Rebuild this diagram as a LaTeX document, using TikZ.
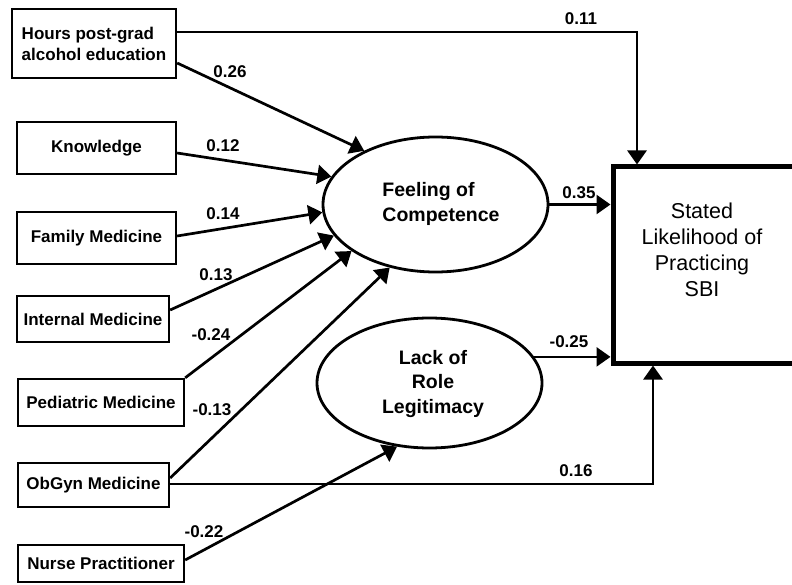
\documentclass[tikz,border=0pt]{standalone}
\usepackage{fontspec}
\setmainfont{Liberation Sans}
\usetikzlibrary{arrows.meta,shapes.geometric}
\begin{document}
\begin{tikzpicture}[x=1pt,y=-1pt,
  box/.style={draw,line width=2.3pt,rectangle,inner sep=0pt,font=\fontsize{17}{21}\selectfont\bfseries,align=center},
  lat/.style={draw,line width=2.8pt,ellipse,inner sep=0pt},
  lattxt/.style={font=\fontsize{19.5}{24.5}\selectfont\bfseries,inner sep=0pt},
  coef/.style={font=\fontsize{17}{20}\selectfont\bfseries,inner sep=0pt},
  conn/.style={line width=2.7pt,-{Triangle[length=14pt,width=19pt]}},
]
\clip (0,0) rectangle (792,585);
\fill[white] (0,0) rectangle (792,585);

% exogenous boxes
\node[box,align=left,minimum width=164pt,minimum height=69pt] (hours) at (94,43.5) {Hours post-grad\\alcohol education};
\node[box,minimum width=159pt,minimum height=52pt] (know) at (96.5,148) {Knowledge};
\node[box,minimum width=159pt,minimum height=52pt] (fam) at (96.5,238) {Family Medicine};
\node[box,minimum width=152pt,minimum height=46pt] (int) at (93,319) {Internal Medicine};
\node[box,minimum width=166pt,minimum height=47pt] (ped) at (101,402.5) {Pediatric Medicine};
\node[box,minimum width=151pt,minimum height=44pt] (obg) at (93.5,485) {ObGyn Medicine};
\node[box,minimum width=166pt,minimum height=37pt] (nur) at (101,563.5) {Nurse Practitioner};

% latent ellipses
\node[lat,minimum width=225pt,minimum height=135pt] (feel) at (435.5,204.5) {};
\node[lattxt,align=left] (feeltxt) at (441,204) {Feeling of\\Competence};
\node[lat,minimum width=225pt,minimum height=130pt] (lack) at (429.5,383) {};
\node[lattxt,align=center] (lacktxt) at (433,383.5) {Lack of\\Role\\Legitimacy};

% outcome box
\node[draw,line width=5pt,rectangle,inner sep=0pt,minimum width=187pt,minimum height=196pt] (sbi) at (706.5,265) {};
\node[font=\fontsize{21.5}{26}\selectfont,align=center,inner sep=0pt] (sbitxt) at (702,250) {Stated\\Likelihood of\\Practicing\\SBI};

% connectors
\draw[conn] ([yshift=11.5pt]hours.east) -| ([xshift=-69.5pt]sbi.north);
\draw[conn] ([yshift=-19.5pt]hours.east) -- (feel.143.3);
\draw[conn] ([yshift=-5pt]know.east) -- (feel.165);
\draw[conn] ([yshift=2pt]fam.east) -- (feel.184.3);
\draw[conn] ([yshift=9pt]int.east) -- (feel.197.6);
\draw[conn] (ped.north east) -- (feel.209.6);
\draw[conn] ([yshift=7pt]obg.east) -- (feel.234.7);
\draw[conn] ([yshift=1pt]obg.east) -| ([xshift=-53.5pt]sbi.south);
\draw[conn] ([yshift=3.5pt]nur.east) -- (lack.243.8);
\draw[conn] (feel.east) -- (feel.east -| sbi.west);
\draw[conn] (lack.14.8) -- (lack.14.8 -| sbi.west);

% coefficients
\node[coef] (c1) at (581,18.5) {0.11};
\node[coef] (c2) at (230,72) {0.26};
\node[coef] (c3) at (223,146) {0.12};
\node[coef] (c4) at (223,214) {0.14};
\node[coef] (c5) at (216,275) {0.13};
\node[coef] (c6) at (211,335) {-0.24};
\node[coef] (c7) at (212,410) {-0.13};
\node[coef] (c8) at (204,532) {-0.22};
\node[coef] (c9) at (579,193) {0.35};
\node[coef] (c10) at (569,342) {-0.25};
\node[coef] (c11) at (576,471) {0.16};
\end{tikzpicture}
\end{document}
